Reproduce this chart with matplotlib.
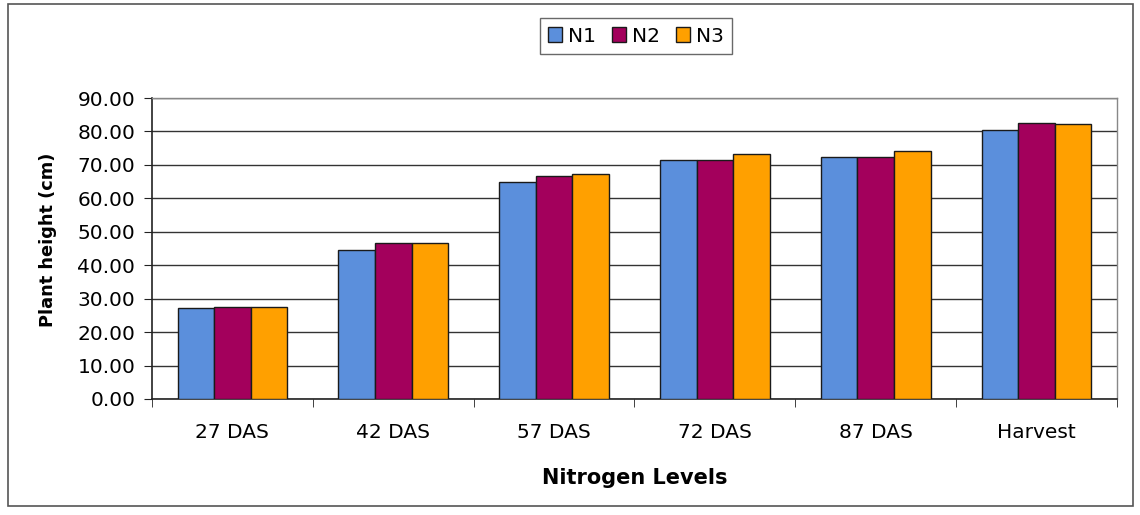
import matplotlib
matplotlib.use("Agg")
import matplotlib.pyplot as plt
import numpy as np
from matplotlib.patches import Rectangle

categories = ["27 DAS", "42 DAS", "57 DAS", "72 DAS", "87 DAS", "Harvest"]
series_names = ["N1", "N2", "N3"]
n1 = [27.3, 44.5, 65.0, 71.6, 72.4, 80.4]
n2 = [27.5, 46.5, 66.6, 71.6, 72.4, 82.4]
n3 = [27.5, 46.5, 67.2, 73.2, 74.2, 82.1]
yticks = [0, 10, 20, 30, 40, 50, 60, 70, 80, 90]
ytick_labels = ["0.00", "10.00", "20.00", "30.00", "40.00", "50.00", "60.00", "70.00", "80.00", "90.00"]
colors = ["#5b8fdc", "#a3005c", "#ffa000"]

plt.rcParams['font.family'] = ['DejaVu Sans']

W, H = 1140, 515
fig = plt.figure(figsize=(W/100, H/100), dpi=100)
ax = fig.add_axes([152/W, 1-399/H, (1117-152)/W, (399-98)/H])

x = np.arange(len(categories))
w = 0.227
for i, (vals, name) in enumerate(zip([n1, n2, n3], series_names)):
    ax.bar(x + (i-1)*w, vals, width=w, color=colors[i], edgecolor="#1a1a1a",
           linewidth=1.0, label=name, zorder=3)

ax.set_xlim(-0.5, len(categories)-0.5)
ax.set_ylim(0, 90)
ax.set_yticks(yticks)
ax.set_yticklabels(ytick_labels, fontsize=14.5)
ax.yaxis.grid(True, color="#333333", linewidth=1.0, zorder=0)
ax.set_axisbelow(True)

ax.set_xticks(x)
ax.set_xticklabels(categories, fontsize=14.5)
ax.tick_params(axis='x', length=0, pad=17)
ax.set_xticks(np.arange(-0.5, len(categories)), minor=True)
ax.tick_params(axis='x', which='minor', length=6, color="#222222", direction='out')
ax.tick_params(axis='y', length=6, color="#222222", direction='out', pad=6)

for s in ['left', 'bottom']:
    ax.spines[s].set_color("#222222")
    ax.spines[s].set_linewidth(1.2)
for s in ['top', 'right']:
    ax.spines[s].set_color("#888888")
    ax.spines[s].set_linewidth(1.0)

fig.text(48/W, 1-240/H, "Plant height (cm)", rotation=90, fontsize=12.8, fontweight='bold',
         ha='center', va='center')
fig.text(635/W, 1-478/H, "Nitrogen Levels", fontsize=15, fontweight='bold',
         ha='center', va='center')

leg = ax.legend(loc='center', bbox_to_anchor=(636/W, 1-36/H), bbox_transform=fig.transFigure,
                ncol=3, fontsize=14.5, frameon=True, fancybox=False, handlelength=0.7,
                handleheight=0.7, handletextpad=0.3, columnspacing=0.8, borderpad=0.4)
leg.get_frame().set_edgecolor("#444444")
leg.get_frame().set_linewidth(1.0)

fig.patches.append(Rectangle((8/W, 1-506/H), (1133-8)/W, (506-4)/H,
                             transform=fig.transFigure, fill=False,
                             edgecolor="#555555", linewidth=1.2))

fig.savefig("out.png", dpi=100)
